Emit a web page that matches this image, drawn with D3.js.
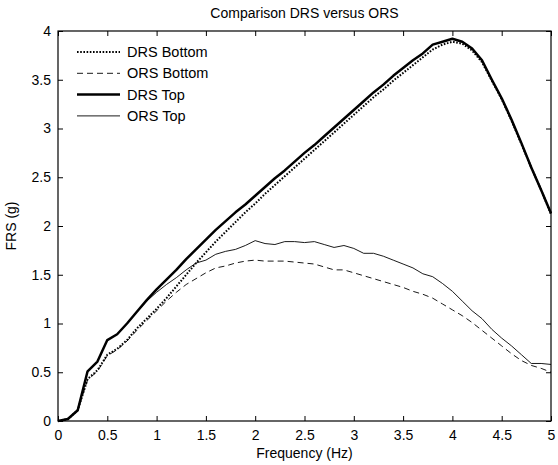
<!DOCTYPE html>
<html>
<head>
<meta charset="utf-8">
<script src="https://cdn.jsdelivr.net/npm/d3@7"></script>
<style>
  body { margin: 0; background: #fff; }
  text { font-family: "Liberation Sans", Arial, sans-serif; fill: #000; }
</style>
</head>
<body>
<script>
// frequency grid (Hz)
const freq = [0, 0.1, 0.2, 0.3, 0.4, 0.5, 0.6, 0.7, 0.8, 0.9,
    1.0, 1.1, 1.2, 1.3, 1.4, 1.5, 1.6, 1.7, 1.8, 1.9,
    2.0, 2.1, 2.2, 2.3, 2.4, 2.5, 2.6, 2.7, 2.8, 2.9,
    3.0, 3.1, 3.2, 3.3, 3.4, 3.5, 3.6, 3.7, 3.8, 3.9,
    4.0, 4.1, 4.2, 4.3, 4.4, 4.5, 4.6, 4.7, 4.8, 4.9, 5.0];

const drsBottom = [0, 0.02, 0.11, 0.43, 0.52, 0.68, 0.74, 0.83, 0.95, 1.05,
    1.15, 1.26, 1.38, 1.50, 1.62, 1.73, 1.84, 1.94, 2.04, 2.14,
    2.23, 2.33, 2.42, 2.51, 2.60, 2.69, 2.78, 2.87, 2.96, 3.05,
    3.14, 3.23, 3.32, 3.40, 3.49, 3.57, 3.65, 3.73, 3.81, 3.86,
    3.89, 3.87, 3.80, 3.68, 3.49, 3.30, 3.08, 2.84, 2.60, 2.37, 2.12];

const orsBottom = [0, 0.02, 0.11, 0.42, 0.51, 0.67, 0.73, 0.82, 0.93, 1.03,
    1.13, 1.23, 1.32, 1.40, 1.46, 1.52, 1.57, 1.59, 1.62, 1.64,
    1.65, 1.64, 1.64, 1.64, 1.63, 1.62, 1.61, 1.58, 1.55, 1.55,
    1.52, 1.49, 1.46, 1.43, 1.40, 1.37, 1.33, 1.30, 1.26, 1.20,
    1.14, 1.08, 1.01, 0.93, 0.85, 0.77, 0.69, 0.62, 0.57, 0.54, 0.50];

const drsTop = [0, 0.02, 0.11, 0.51, 0.61, 0.83, 0.89, 1.00, 1.12, 1.24,
    1.35, 1.45, 1.55, 1.66, 1.76, 1.86, 1.96, 2.05, 2.14, 2.22,
    2.31, 2.40, 2.49, 2.57, 2.66, 2.75, 2.83, 2.92, 3.01, 3.10,
    3.19, 3.28, 3.37, 3.45, 3.54, 3.62, 3.70, 3.77, 3.86, 3.89,
    3.92, 3.89, 3.82, 3.70, 3.50, 3.31, 3.09, 2.85, 2.60, 2.37, 2.13];

const orsTop = [0, 0.02, 0.11, 0.51, 0.61, 0.83, 0.89, 1.00, 1.12, 1.23,
    1.32, 1.40, 1.47, 1.55, 1.62, 1.65, 1.71, 1.74, 1.76, 1.80,
    1.85, 1.82, 1.81, 1.84, 1.84, 1.83, 1.84, 1.81, 1.78, 1.80,
    1.77, 1.72, 1.72, 1.69, 1.65, 1.61, 1.57, 1.51, 1.48, 1.41,
    1.33, 1.23, 1.13, 1.05, 0.94, 0.85, 0.77, 0.68, 0.59, 0.59, 0.58];

const xTicks = [0, 0.5, 1, 1.5, 2, 2.5, 3, 3.5, 4, 4.5, 5];
const yTicks = [0, 0.5, 1, 1.5, 2, 2.5, 3, 3.5, 4];

const series = [
    { name: 'DRS Bottom', values: drsBottom, width: 2, dash: '1.6,1.6' },
    { name: 'ORS Bottom', values: orsBottom, width: 0.9, dash: '6,4' },
    { name: 'DRS Top', values: drsTop, width: 2.5, dash: null },
    { name: 'ORS Top', values: orsTop, width: 0.9, dash: null }
];

const width = 558, height = 465;
const margin = { top: 31, right: 7, bottom: 44, left: 58 };

const svg = d3.select('body')
    .append('svg')
    .attr('width', width)
    .attr('height', height);

const x = d3.scaleLinear().domain([0, 5]).range([margin.left, width - margin.right]);
const y = d3.scaleLinear().domain([0, 4]).range([height - margin.bottom, margin.top]);

// axes with inward ticks on all four sides
const tick = 5;
svg.append('g')
    .attr('transform', `translate(0,${y(0)})`)
    .call(d3.axisBottom(x).tickValues(xTicks).tickSize(-tick).tickPadding(9).tickFormat(d3.format('')))
    .call(g => g.select('.domain').remove());
svg.append('g')
    .attr('transform', `translate(0,${y(4)})`)
    .call(d3.axisTop(x).tickValues(xTicks).tickSize(-tick).tickFormat(''))
    .call(g => g.select('.domain').remove());
svg.append('g')
    .attr('transform', `translate(${x(0)},0)`)
    .call(d3.axisLeft(y).tickValues(yTicks).tickSize(-tick).tickPadding(7).tickFormat(d3.format('')))
    .call(g => g.select('.domain').remove());
svg.append('g')
    .attr('transform', `translate(${x(5)},0)`)
    .call(d3.axisRight(y).tickValues(yTicks).tickSize(-tick).tickFormat(''))
    .call(g => g.select('.domain').remove());

svg.selectAll('.tick text')
    .style('font-size', '14px')
    .style('font-family', '"Liberation Sans", Arial, sans-serif');
svg.selectAll('.tick line').attr('stroke', '#000');

svg.append('rect')
    .attr('x', x(0))
    .attr('y', y(4))
    .attr('width', x(5) - x(0))
    .attr('height', y(0) - y(4))
    .attr('fill', 'none')
    .attr('stroke', '#000')
    .attr('stroke-width', 1.2);

const line = d3.line()
    .x((d, i) => x(freq[i]))
    .y(d => y(d));

svg.append('g')
    .selectAll('path')
    .data(series)
    .enter()
    .append('path')
    .attr('d', d => line(d.values))
    .attr('fill', 'none')
    .attr('stroke', '#000')
    .attr('stroke-width', d => d.width)
    .attr('stroke-dasharray', d => d.dash)
    .attr('stroke-linejoin', 'round');

// legend (no box)
const legend = svg.append('g')
    .selectAll('g')
    .data(series)
    .enter()
    .append('g')
    .attr('transform', (d, i) => `translate(77,${52 + i * 21.3})`);

legend.append('line')
    .attr('x1', 0)
    .attr('x2', 43)
    .attr('stroke', '#000')
    .attr('stroke-width', d => d.width)
    .attr('stroke-dasharray', d => d.dash);

legend.append('text')
    .attr('x', 50)
    .attr('dy', '0.35em')
    .style('font-size', '14.5px')
    .text(d => d.name);

// titles
svg.append('text')
    .attr('x', (x(0) + x(5)) / 2)
    .attr('y', 18)
    .attr('text-anchor', 'middle')
    .style('font-size', '14px')
    .text('Comparison DRS versus ORS');

svg.append('text')
    .attr('x', (x(0) + x(5)) / 2)
    .attr('y', 458)
    .attr('text-anchor', 'middle')
    .style('font-size', '14px')
    .text('Frequency (Hz)');

svg.append('text')
    .attr('transform', `translate(16,${(y(0) + y(4)) / 2}) rotate(-90)`)
    .attr('text-anchor', 'middle')
    .style('font-size', '14px')
    .text('FRS (g)');
</script>
</body>
</html>
